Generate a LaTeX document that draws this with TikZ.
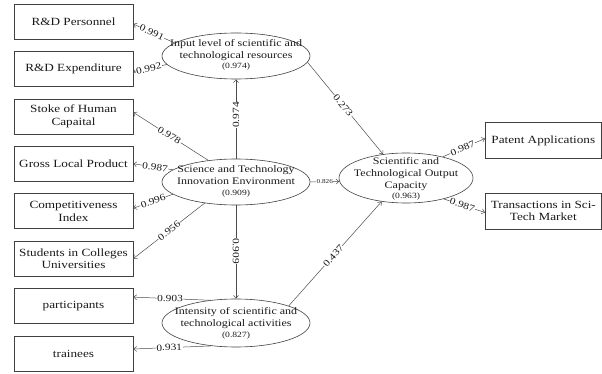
\documentclass[tikz,border=0pt]{standalone}
\usepackage{fontspec}
\setmainfont{Liberation Serif}[FakeStretch=1.2]
\usetikzlibrary{shapes.geometric,arrows.meta}
\begin{document}
\begin{tikzpicture}[x=1pt,y=-1pt,
 box/.style={draw=black!75, line width=0.6pt, minimum width=119pt, minimum height=35pt, inner sep=1pt, align=center, font=\fontsize{11}{12.5}\selectfont, text=black!90},
 rbox/.style={box, minimum width=116pt, minimum height=36pt},
 lat/.style={draw=black!75, line width=0.6pt, ellipse, inner sep=0pt},
 lattxt/.style={align=center, inner sep=0pt, font=\fontsize{10}{12}\selectfont, text=black!90},
 conn/.style={draw=black!70, line width=0.5pt, -{Straight Barb[length=3pt,width=5pt]}},
 lab/.style={fill=white, inner sep=0.6pt, font=\fontsize{9.5}{10}\selectfont, text=black!90},
 tinylab/.style={fill=white, inner sep=0.4pt, font=\fontsize{6}{7}\selectfont, text=black!90}
]
\newcommand{\valtxt}[1]{\\[-1.5pt]{\fontsize{8}{9}\selectfont #1}}
\useasboundingbox (0,0) rectangle (602,374);

% left boxes
\node[box] (rdp) at (73.5,21.5) {R\&D Personnel};
\node[box] (rde) at (73.5,68.9) {R\&D Expenditure};
\node[box] (shc) at (73.5,116.4) {Stoke of Human\\Capaital};
\node[box] (glp) at (73.5,163.8) {Gross Local Product};
\node[box] (cpi) at (73.5,211.2) {Competitiveness\\Index};
\node[box] (scu) at (73.5,258.6) {Students in Colleges\\Universities};
\node[box] (par) at (73.5,306.1) {participants};
\node[box] (tra) at (73.5,353.5) {trainees};

% right boxes
\node[rbox] (pat) at (543.3,140.5) {Patent Applications};
\node[rbox] (tsm) at (543.3,211) {Transactions in Sci-\\Tech Market};

% latent ellipses
\node[lat, minimum width=148pt, minimum height=46pt] (inp) at (236,56) {};
\node[lattxt] (inpt) at (236,55) {Input level of scientific and\\technological resources\valtxt{(0.974)}};
\node[lat, minimum width=148pt, minimum height=46pt] (env) at (236,182) {};
\node[lattxt] (envt) at (236,181.5) {Science and Technology\\Innovation Environment\valtxt{(0.909)}};
\node[lat, minimum width=148pt, minimum height=48pt] (int) at (236,323) {};
\node[lattxt] (intt) at (236,323.5) {Intensity of scientific and\\technological activities\valtxt{(0.827)}};
\node[lat, minimum width=134pt, minimum height=50pt] (out) at (406,178) {};
\node[lattxt] (outt) at (406,179) {Scientific and\\Technological Output\\Capacity\valtxt{(0.963)}};

% connectors
\draw[conn] (inp.168) -- node[lab,sloped,pos=0.55]{0.991} ([yshift=-2.5pt]rdp.east);
\draw[conn] (inp.187.5) -- node[lab,sloped,pos=0.54]{0.992} ([yshift=-3pt]rde.east);
\draw[conn] (env.north) -- node[lab,rotate=90,pos=0.55]{0.974} (inp.south);
\draw[conn] (env.142.7) -- node[lab,sloped,pos=0.52]{0.978} ([yshift=4pt]shc.east);
\draw[conn] (env.169) -- node[lab,sloped,pos=0.45]{0.987} (glp.east);
\draw[conn] (env.191) -- node[lab,sloped,pos=0.5]{0.996} ([yshift=3pt]cpi.east);
\draw[conn] (env.214) -- node[lab,sloped,pos=0.5]{0.956} (scu.east);
\draw[conn] (env.south) -- node[lab,rotate=-90,pos=0.49]{0.909} (int.north);
\draw[conn] (inp.355) -- node[lab,sloped,pos=0.47]{0.273} (out.134);
\draw[conn] (env.east) -- node[tinylab,pos=0.5]{0.826} (out.183);
\draw[conn] (int.18) -- node[lab,sloped,pos=0.48]{0.437} (out.224);
\draw[conn] (int.139) -- node[lab,sloped,pos=0.52]{0.903} ([yshift=9pt]par.east);
\draw[conn] (int.223) -- node[lab,sloped,pos=0.54]{0.931} ([yshift=4.5pt]tra.east);
\draw[conn] (out.30) -- node[lab,sloped,pos=0.47]{0.987} ([yshift=2pt]pat.west);
\draw[conn] (out.331) -- node[lab,sloped,pos=0.45]{0.987} ([yshift=-1.5pt]tsm.west);
\end{tikzpicture}
\end{document}
